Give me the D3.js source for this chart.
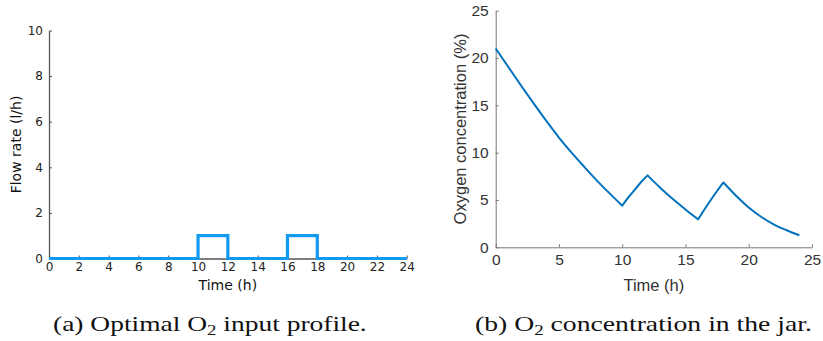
<!DOCTYPE html>
<html>
<head>
<meta charset="utf-8">
<script src="https://cdn.jsdelivr.net/npm/d3@7"></script>
<style>
  html, body { margin: 0; padding: 0; background: #fff; }
  svg { display: block; }
</style>
</head>
<body>
<svg id="fig" width="823" height="341"></svg>
<script>
// Optimal O2 input: piecewise-constant flow rate (l/h), value holds until next breakpoint
const flowTime = [0, 10, 12, 16, 18, 24];
const flowRate = [0, 1, 0, 1, 0, 0];

// Oxygen concentration in the jar (%) over 24 h
const o2Time = [0, 1, 2, 3, 4, 5, 6, 7, 8, 9, 10,
                10.5, 11, 11.5, 12,
                13, 14, 15, 16,
                16.5, 17, 17.5, 18,
                19, 20, 21, 22, 23, 24];
const o2Conc = [21.0, 19.05, 17.1, 15.2, 13.35, 11.6, 10.0, 8.5, 7.05, 5.7, 4.4,
                5.3, 6.1, 6.9, 7.6,
                6.3, 5.1, 4.0, 2.95,
                4.0, 5.0, 5.95, 6.85,
                5.45, 4.2, 3.2, 2.4, 1.8, 1.27];

// Tick labels
const flowTicksX = [0, 2, 4, 6, 8, 10, 12, 14, 16, 18, 20, 22, 24];
const flowTicksY = [0, 2, 4, 6, 8, 10];
const o2TicksX = [0, 5, 10, 15, 20, 25];
const o2TicksY = [0, 5, 10, 15, 20, 25];

// Captions
const captionA = ["(a) Optimal O", "2", " input profile."];
const captionB = ["(b) O", "2", " concentration in the jar."];

const svg = d3.select("#fig");

// ---------- Panel (a): flow rate ----------
const ax = d3.scaleLinear().domain([0, 24]).range([49, 406.7]);
const ay = d3.scaleLinear().domain([0, 10]).range([258.5, 30.5]);
const gA = svg.append("g").attr("font-family", "DejaVu Sans");

const axA = gA.append("g").attr("transform", `translate(0,${ay(0)})`)
  .call(d3.axisBottom(ax).tickValues(flowTicksX).tickFormat(d3.format("d"))
    .tickSizeInner(-3).tickSizeOuter(0).tickPadding(4));
const ayA = gA.append("g").attr("transform", `translate(${ax(0)},0)`)
  .call(d3.axisLeft(ay).tickValues(flowTicksY).tickFormat(d3.format("d"))
    .tickSizeInner(-3).tickSizeOuter(0).tickPadding(6));
[axA, ayA].forEach(g => {
  g.attr("font-family", "DejaVu Sans").attr("font-size", 12);
  g.select(".domain").attr("stroke", "#555").attr("stroke-width", 1.3);
  g.selectAll(".tick line").attr("stroke", "#555");
  g.selectAll(".tick text").attr("fill", "#222");
});

gA.append("path")
  .datum(flowTime.map((t, i) => [t, flowRate[i]]))
  .attr("fill", "none")
  .attr("stroke", "#119af0")
  .attr("stroke-width", 3.2)
  .attr("d", d3.line().x(d => ax(d[0])).y(d => ay(d[1])).curve(d3.curveStepAfter));

gA.append("text")
  .attr("x", (ax(0) + ax(24)) / 2).attr("y", 290)
  .attr("text-anchor", "middle").attr("font-size", 14).attr("fill", "#111")
  .text("Time (h)");
gA.append("text")
  .attr("transform", `translate(21,${(ay(0) + ay(10)) / 2}) rotate(-90)`)
  .attr("text-anchor", "middle").attr("font-size", 14).attr("fill", "#111")
  .text("Flow rate (l/h)");

// ---------- Panel (b): oxygen concentration ----------
const bx = d3.scaleLinear().domain([0, 25]).range([495.7, 812]);
const by = d3.scaleLinear().domain([0, 25]).range([247.3, 10.7]);
const gB = svg.append("g").attr("font-family", "Liberation Sans");

const axB = gB.append("g").attr("transform", `translate(0,${by(0)})`)
  .call(d3.axisBottom(bx).tickValues(o2TicksX).tickFormat(d3.format("d"))
    .tickSizeInner(-3).tickSizeOuter(0).tickPadding(7));
const ayB = gB.append("g").attr("transform", `translate(${bx(0)},0)`)
  .call(d3.axisLeft(by).tickValues(o2TicksY).tickFormat(d3.format("d"))
    .tickSizeInner(-3).tickSizeOuter(0).tickPadding(7));
[axB, ayB].forEach(g => {
  g.attr("font-family", "Liberation Sans").attr("font-size", 15.5);
  g.select(".domain").attr("stroke", "#777").attr("stroke-width", 1);
  g.selectAll(".tick line").attr("stroke", "#777");
  g.selectAll(".tick text").attr("fill", "#333");
});

// The concentration is smooth between switching instants of the input and
// has kinks at them, so each interval gets its own monotone spline.
const o2Points = o2Time.map((t, i) => [t, o2Conc[i]]);
const o2Line = d3.line().x(d => bx(d[0])).y(d => by(d[1])).curve(d3.curveMonotoneX);
const o2Path = d3.pairs(flowTime).map(([t0, t1], k) => {
  const seg = o2Points.filter(d => d[0] >= t0 && d[0] <= t1);
  const dStr = o2Line(seg);
  return k === 0 ? dStr : "L" + dStr.slice(1);
}).join("");

gB.append("path")
  .attr("fill", "none")
  .attr("stroke", "#0072bd")
  .attr("stroke-width", 2)
  .attr("stroke-linejoin", "round")
  .attr("d", o2Path);

gB.append("text")
  .attr("x", (bx(0) + bx(25)) / 2).attr("y", 291)
  .attr("text-anchor", "middle").attr("font-size", 16.5).attr("fill", "#333")
  .text("Time (h)");
gB.append("text")
  .attr("transform", `translate(466,${(by(0) + by(25)) / 2}) rotate(-90)`)
  .attr("text-anchor", "middle").attr("font-size", 16.5).attr("fill", "#333")
  .text("Oxygen concentration (%)");

// ---------- Captions ----------
function caption(parts, cx, width) {
  const t = svg.append("text")
    .attr("x", 0).attr("y", 331)
    .attr("font-family", "Liberation Serif").attr("font-size", 22).attr("fill", "#111");
  t.append("tspan").text(parts[0]);
  t.append("tspan").attr("font-size", 15).attr("dy", 4).text(parts[1]);
  t.append("tspan").attr("dy", -4).text(parts[2]);
  const w = t.node().getComputedTextLength();
  const s = width / w;
  t.attr("transform", `translate(${cx - width / 2},0) scale(${s},1)`);
}
caption(captionA, 210, 314);
caption(captionB, 643.5, 337);
</script>
</body>
</html>
